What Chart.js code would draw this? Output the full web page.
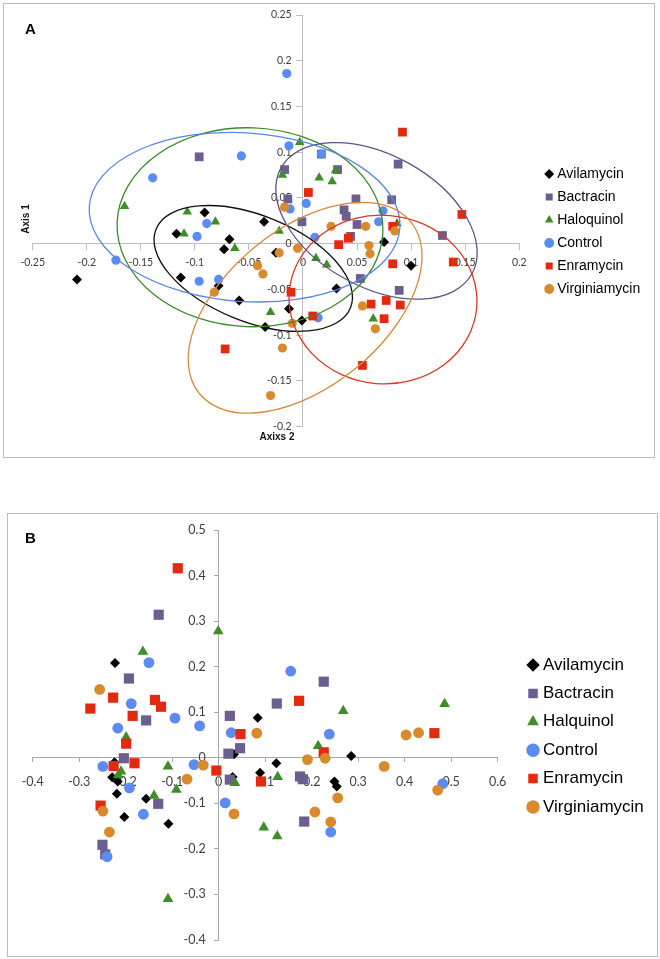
<!DOCTYPE html>
<html>
<head>
<meta charset="utf-8">
<title>Panels A and B</title>
<script src="https://cdn.jsdelivr.net/npm/chart.js@4.4.1/dist/chart.umd.min.js"></script>
<style>
    body { margin: 0; background: #fff; }
    .panel { position: absolute; box-sizing: border-box; border: 1px solid #bcbcbc; }
    #panel-a { left: 3px; top: 3px; width: 652px; height: 455px; }
    #panel-b { left: 7px; top: 513px; width: 651px; height: 444px; }
    .panel canvas { position: absolute; left: 0; top: 0; }
    .tag { position: absolute; font: bold 15px 'Liberation Sans', Arial, sans-serif; line-height: 1; color: #000; }
    .axis-title { position: absolute; font: bold 10px 'Liberation Sans', Arial, sans-serif; line-height: 1; color: #111; white-space: nowrap; transform: translate(-50%, -50%); }
</style>
</head>
<body>
<div class="panel" id="panel-a"><canvas id="grafico-a" width="650" height="453"></canvas></div>
<div class="panel" id="panel-b"><canvas id="grafico-b" width="649" height="442"></canvas></div>
<div class="tag" style="left:25px; top:21px">A</div>
<div class="tag" style="left:25px; top:530px">B</div>
<div class="axis-title" style="left:26px; top:219px; transform: translate(-50%, -50%) rotate(-90deg)">Axis 1</div>
<div class="axis-title" style="left:277px; top:437px">Axixs 2</div>

<script>
const namesA = ['Avilamycin', 'Bactracin', 'Haloquinol', 'Control', 'Enramycin', 'Virginiamycin']
const namesB = ['Avilamycin', 'Bactracin', 'Halquinol', 'Control', 'Enramycin', 'Virginiamycin']

// panel A points [axis x, axis y]
const avilamycinA = [[-0.209, -0.039], [-0.117, 0.011], [-0.091, 0.034], [-0.113, -0.037], [-0.068, 0.005], [-0.073, -0.006], [-0.036, 0.024], [-0.078, -0.046], [-0.059, -0.062], [-0.025, -0.010], [-0.013, -0.071], [-0.035, -0.091], [-0.001, -0.084], [0.031, -0.049], [0.075, 0.002], [0.100, -0.024]]
const bactracinA = [[-0.096, 0.095], [-0.017, 0.081], [-0.014, 0.049], [0.017, 0.098], [0.032, 0.081], [0.088, 0.087], [0.049, 0.049], [0.082, 0.048], [0.038, 0.037], [0.040, 0.030], [-0.001, 0.024], [0.050, 0.021], [0.044, 0.008], [0.129, 0.009], [0.053, -0.038], [0.089, -0.051]]
const haloquinolA = [[-0.165, 0.041], [-0.003, 0.111], [-0.019, 0.075], [0.015, 0.072], [0.030, 0.080], [0.027, 0.068], [-0.107, 0.035], [-0.081, 0.024], [-0.110, 0.011], [-0.063, -0.005], [-0.022, 0.014], [0.012, -0.016], [0.022, -0.023], [-0.030, -0.075], [0.065, -0.082], [0.087, 0.022]]
const controlA = [[-0.015, 0.186], [-0.013, 0.107], [-0.057, 0.096], [-0.139, 0.072], [0.017, 0.098], [0.003, 0.044], [-0.012, 0.038], [-0.089, 0.022], [-0.098, 0.008], [-0.173, -0.018], [-0.096, -0.041], [-0.078, -0.039], [0.011, 0.007], [0.074, 0.036], [0.070, 0.024], [0.014, -0.081]]
const enramycinA = [[0.092, 0.122], [0.005, 0.056], [0.147, 0.032], [0.083, 0.019], [0.033, -0.001], [0.042, 0.006], [0.083, -0.022], [0.139, -0.020], [-0.011, -0.053], [0.009, -0.079], [0.063, -0.066], [0.077, -0.062], [0.090, -0.067], [0.075, -0.082], [0.055, -0.133], [-0.072, -0.115]]
const virginiamycinA = [[-0.017, 0.040], [0.026, 0.019], [0.058, 0.019], [0.085, 0.014], [0.061, -0.002], [0.062, -0.011], [-0.022, -0.010], [-0.005, -0.005], [-0.042, -0.024], [-0.037, -0.033], [-0.082, -0.053], [-0.010, -0.087], [0.055, -0.068], [0.067, -0.093], [-0.019, -0.114], [-0.030, -0.166]]

// ellipses round each group of panel A (same order as namesA)
const ellipseCentersA = [[-0.046, -0.027], [0.068, 0.025], [-0.049, 0.018], [-0.054, 0.029], [0.074, -0.061], [0.002, -0.070]]
const ellipseAxesA = [[0.097, 0.049], [0.101, 0.061], [0.123, 0.092], [0.144, 0.078], [0.087, 0.078], [0.126, 0.073]]
const ellipseTiltA = [22, 29, 2, 4, 5, -39]

// panel B points
const avilamycinB = [[-0.223, 0.208], [-0.224, -0.010], [-0.229, -0.043], [-0.217, -0.052], [-0.219, -0.079], [-0.203, -0.130], [-0.156, -0.090], [-0.108, -0.145], [0.084, 0.088], [0.033, 0.008], [0.030, -0.042], [0.089, -0.033], [0.124, -0.012], [0.285, 0.004], [0.249, -0.052], [0.254, -0.063]]
const bactracinB = [[-0.129, 0.314], [-0.193, 0.174], [-0.156, 0.082], [-0.204, -0.001], [-0.130, -0.101], [-0.250, -0.191], [-0.244, -0.212], [0.024, 0.092], [0.021, 0.009], [0.046, 0.021], [0.125, 0.119], [0.226, 0.167], [0.024, -0.048], [0.175, -0.041], [0.181, -0.047], [0.184, -0.140]]
const halquinolB = [[-0.163, 0.233], [-0.001, 0.278], [-0.199, 0.045], [-0.210, -0.030], [-0.216, -0.038], [-0.109, -0.019], [-0.091, -0.070], [-0.139, -0.083], [-0.109, -0.310], [0.035, -0.055], [0.127, -0.042], [0.097, -0.153], [0.126, -0.172], [0.214, 0.026], [0.268, 0.103], [0.486, 0.118]]
const controlB = [[-0.150, 0.209], [-0.188, 0.119], [-0.217, 0.065], [-0.094, 0.087], [-0.041, 0.070], [-0.249, -0.019], [-0.192, -0.066], [-0.162, -0.124], [-0.240, -0.217], [-0.053, -0.015], [0.014, -0.099], [0.027, 0.055], [0.155, 0.190], [0.238, 0.052], [0.241, -0.163], [0.482, -0.057]]
const enramycinB = [[-0.088, 0.416], [-0.276, 0.108], [-0.227, 0.132], [-0.137, 0.127], [-0.124, 0.112], [-0.185, 0.092], [-0.199, 0.031], [-0.226, -0.018], [-0.181, -0.012], [-0.254, -0.105], [-0.005, -0.028], [0.047, 0.052], [0.173, 0.125], [0.226, 0.012], [0.464, 0.054], [0.091, -0.052]]
const virginiamycinB = [[-0.256, 0.150], [-0.249, -0.117], [-0.235, -0.163], [-0.068, -0.047], [-0.033, -0.016], [0.082, 0.054], [0.033, -0.123], [0.191, -0.004], [0.229, -0.001], [0.207, -0.119], [0.241, -0.141], [0.256, -0.088], [0.356, -0.019], [0.403, 0.050], [0.430, 0.055], [0.471, -0.071]]

// tick values
const xTicksA = [-0.25, -0.2, -0.15, -0.1, -0.05, 0, 0.05, 0.1, 0.15, 0.2]
const yTicksA = [-0.2, -0.15, -0.1, -0.05, 0, 0.05, 0.1, 0.15, 0.2, 0.25]
const xTicksB = [-0.4, -0.3, -0.2, -0.1, 0, 0.1, 0.2, 0.3, 0.4, 0.5, 0.6]
const yTicksB = [-0.4, -0.3, -0.2, -0.1, 0, 0.1, 0.2, 0.3, 0.4, 0.5]

const colors = ['#000000', '#6c5e91', '#3e8c2a', '#5b8cf3', '#e22a10', '#d98a2c']
const ellipseColors = ['#111111', '#5d5680', '#3d8a2c', '#5a86e6', '#d9382a', '#d68b3c']
const shapes = ['rectRot', 'rect', 'triangle', 'circle', 'rect', 'circle']

function buildDatasets(names, series, sizes) {
    return series.map((points, i) => ({
        label: names[i],
        data: points.map(p => ({x: p[0], y: p[1]})),
        pointStyle: shapes[i],
        pointRadius: sizes[i],
        pointBorderWidth: 0,
        backgroundColor: colors[i],
        borderColor: colors[i],
        order: series.length - i,   // later series drawn on top, like the original
        clip: false
    }))
}

function tickFont(fontSize) {
    return {family: 'Lato', size: fontSize}
}

// axis line + tick marks, crossing the other axis at 0
function makeScale(ticks, other, fontSize, axisColor, tickLen, pad, showLabels) {
    return {
        type: 'linear',
        min: ticks[0],
        max: ticks[ticks.length - 1],
        position: {[other]: 0},
        afterBuildTicks: axis => { axis.ticks = ticks.map(v => ({value: v})) },
        border: {display: true, color: axisColor, width: 1},
        grid: {display: true, drawOnChartArea: false, drawTicks: true, tickLength: tickLen, tickColor: axisColor},
        ticks: {
            display: showLabels,
            autoSkip: false,
            maxRotation: 0,
            padding: pad,
            color: '#404040',
            font: tickFont(fontSize),
            callback: v => String(v)
        }
    }
}

// labels only, for the vertical axis; sits a little left of x = 0
function makeLabelScale(ticks, shift, fontSize) {
    return {
        type: 'linear',
        axis: 'y',
        min: ticks[0],
        max: ticks[ticks.length - 1],
        position: {x: shift},
        afterBuildTicks: axis => { axis.ticks = ticks.map(v => ({value: v})) },
        border: {display: false},
        grid: {display: false, drawTicks: false},
        ticks: {
            autoSkip: false,
            padding: 0,
            color: '#404040',
            font: tickFont(fontSize),
            callback: v => String(v)
        }
    }
}

// ellipses drawn over the points, sized in x axis units
function ellipseLayer(centers, axes, tilts) {
    return {
        id: 'ellipses',
        afterDatasetsDraw(chart) {
            const {ctx, scales} = chart
            const kx = scales.x.getPixelForValue(1) - scales.x.getPixelForValue(0)
            centers.forEach((c, i) => {
                ctx.save()
                ctx.beginPath()
                ctx.ellipse(scales.x.getPixelForValue(c[0]), scales.y.getPixelForValue(c[1]),
                    axes[i][0] * kx, axes[i][1] * kx, tilts[i] * Math.PI / 180, 0, Math.PI * 2)
                ctx.lineWidth = 1.3
                ctx.strokeStyle = ellipseColors[i]
                ctx.stroke()
                ctx.restore()
            })
        }
    }
}

// move the legend away from the plot area
function legendOffset(dx, dy) {
    return {
        id: 'legendOffset',
        afterLayout(chart) {
            const lg = chart.legend
            lg.left += dx; lg.right += dx
            lg.top += dy; lg.bottom += dy
        }
    }
}

function legendOptions(fontSize, boxHeight, boxWidth, padding) {
    return {
        position: 'right',
        align: 'center',
        maxWidth: 220,
        labels: {
            usePointStyle: true,
            boxHeight: boxHeight,
            boxWidth: boxWidth,
            padding: padding,
            color: '#000',
            font: {family: 'Liberation Sans', size: fontSize},
            sort: (a, b) => a.datasetIndex - b.datasetIndex
        }
    }
}

function createChartA() {
    const ctx = document.getElementById('grafico-a').getContext('2d')
    new Chart(ctx, {
        type: 'scatter',
        data: {
            datasets: buildDatasets(namesA,
                [avilamycinA, bactracinA, haloquinolA, controlA, enramycinA, virginiamycinA],
                [5, 6.2, 5.5, 4.6, 6.2, 4.6])
        },
        options: {
            responsive: false,
            animation: false,
            events: [],
            layout: {autoPadding: false, padding: {left: 28.7, top: 11, bottom: 30.3, right: 23.8}},
            scales: {
                x: makeScale(xTicksA, 'y', 10.5, '#bfbfbf', 6, 7, true),
                y: makeScale(yTicksA, 'x', 10.5, '#bfbfbf', 6, 0, false),
                yLabels: makeLabelScale(yTicksA, -0.0105, 10.5)
            },
            plugins: {
                legend: legendOptions(14, 7, 2, 9),
                tooltip: {enabled: false}
            }
        },
        plugins: [ellipseLayer(ellipseCentersA, ellipseAxesA, ellipseTiltA), legendOffset(20, 10.6)]
    })
}

function createChartB() {
    const ctx = document.getElementById('grafico-b').getContext('2d')
    new Chart(ctx, {
        type: 'scatter',
        data: {
            datasets: buildDatasets(namesB,
                [avilamycinB, bactracinB, halquinolB, controlB, enramycinB, virginiamycinB],
                [5, 7.2, 6.2, 5.4, 7.2, 5.4])
        },
        options: {
            responsive: false,
            animation: false,
            events: [],
            layout: {autoPadding: false, padding: {left: 24.7, top: 16, bottom: 16, right: 25.7}},
            scales: {
                x: makeScale(xTicksB, 'y', 12.5, '#a8a8a8', 4, 13, true),
                y: makeScale(yTicksB, 'x', 12.5, '#a8a8a8', 4, 0, false),
                yLabels: makeLabelScale(yTicksB, -0.028, 12.5)
            },
            plugins: {
                legend: legendOptions(17, 9.5, 3, 11.4),
                tooltip: {enabled: false}
            }
        },
        plugins: [legendOffset(22.5, 1)]
    })
}

createChartA()
createChartB()
</script>
</body>
</html>
